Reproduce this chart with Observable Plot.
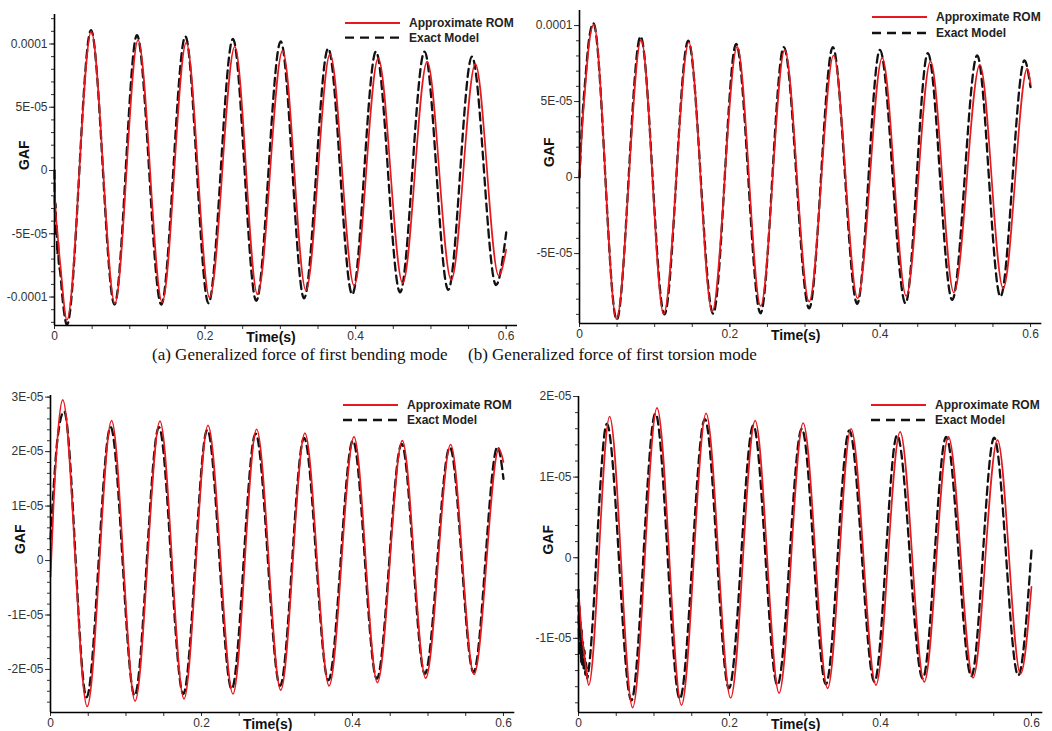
<!DOCTYPE html>
<html><head><meta charset="utf-8">
<script src="https://cdn.jsdelivr.net/npm/d3@7"></script>
<script src="https://cdn.jsdelivr.net/npm/@observablehq/plot@0.6"></script>
<style>
html,body{margin:0;padding:0;background:#fff;overflow:hidden;width:1052px;height:731px;}
#root{position:relative;width:1052px;height:731px;overflow:hidden;}
.panel{position:absolute;}
.panel svg{overflow:visible;}
.legend{position:absolute;}
.caption{position:absolute;font-family:"Liberation Serif","Times New Roman",serif;font-size:17px;line-height:20px;color:#111;white-space:nowrap;}
</style></head><body><div id="root"></div>
<script>
// ---- shared axis data ----
const xTicks = [0, 0.2, 0.4, 0.6];
const xTickLabels = ["0", "0.2", "0.4", "0.6"];
const seriesNames = ["Approximate ROM", "Exact Model"];
const captions = ["(a) Generalized force of first bending mode", "(b) Generalized force of first torsion mode"];

// ---- (a) first bending mode, values in units of 1E-05 ----
const aYTicks = [-10, -5, 0, 5, 10];
const aYLabels = ["-0.0001", "-5E-05", "0", "5E-05", "0.0001"];
const aRomT = [0, 0.001, 0.004, 0.008, 0.0165, 0.0488, 0.0802, 0.111, 0.143, 0.175, 0.206, 0.2395, 0.2696, 0.303, 0.334, 0.366, 0.398, 0.430, 0.4625, 0.495, 0.527, 0.559, 0.590, 0.600];
const aRomV = [0, -2.5, -5.0, -7.6, -11.8, 10.98, -10.5, 10.3, -10.4, 10.1, -10.05, 9.79, -9.79, 9.47, -9.47, 9.2, -9.1, 8.86, -8.9, 8.6, -8.65, 8.4, -8.3, -6.26];
const aExT = [0, 0.0008, 0.0015, 0.0022, 0.003, 0.0038, 0.0046, 0.0056, 0.0075, 0.011, 0.0165, 0.0485, 0.0797, 0.1095, 0.1418, 0.1738, 0.2045, 0.2370, 0.2680, 0.3005, 0.3315, 0.3635, 0.3955, 0.4270, 0.4590, 0.4915, 0.5230, 0.5545, 0.5865, 0.600];
const aExV = [0, -3.5, -2.6, -5.2, -4.3, -6.6, -5.6, -7.2, -8.0, -10.3, -12.2, 11.1, -10.6, 10.7, -10.6, 10.6, -10.5, 10.4, -10.3, 10.2, -10.1, 9.65, -9.8, 9.4, -9.63, 9.4, -9.44, 9.0, -9.05, -4.9];

// ---- (b) first torsion mode ----
const bYTicks = [-5, 0, 5, 10];
const bYLabels = ["-5E-05", "0", "5E-05", "0.0001"];
const bRomT = [0, 0.003, 0.008, 0.0125, 0.019, 0.0492, 0.082, 0.112, 0.1455, 0.1765, 0.2098, 0.241, 0.273, 0.3055, 0.338, 0.370, 0.4027, 0.4346, 0.467, 0.498, 0.5326, 0.5636, 0.5956, 0.600];
const bRomV = [0, 2.8, 6.2, 8.7, 10.07, -9.32, 9.06, -8.97, 8.9, -8.82, 8.62, -8.45, 8.4, -8.16, 8.03, -7.94, 7.88, -7.79, 7.64, -7.57, 7.42, -7.29, 7.16, 6.17];
const bExT = [0, 0.003, 0.008, 0.0125, 0.0185, 0.0495, 0.0812, 0.113, 0.1446, 0.1778, 0.2084, 0.2408, 0.2718, 0.3055, 0.337, 0.3694, 0.3996, 0.4337, 0.4634, 0.4958, 0.529, 0.560, 0.592, 0.600];
const bExV = [0, 3.2, 6.6, 9.0, 10.15, -9.35, 9.28, -9.0, 9.0, -8.95, 8.8, -8.93, 8.58, -8.6, 8.58, -8.3, 8.4, -8.27, 8.18, -8.05, 8.03, -7.83, 7.7, 5.95];

// ---- (c) ----
const cYTicks = [-2, -1, 0, 1, 2, 3];
const cYLabels = ["-2E-05", "-1E-05", "0", "1E-05", "2E-05", "3E-05"];
const cRomT = [0, 0.004, 0.009, 0.0162, 0.0486, 0.0809, 0.112, 0.145, 0.1768, 0.2086, 0.2417, 0.273, 0.305, 0.337, 0.369, 0.402, 0.433, 0.466, 0.497, 0.530, 0.561, 0.594, 0.600];
const cRomV = [-0.3, 1.0, 2.2, 2.95, -2.68, 2.57, -2.58, 2.56, -2.54, 2.48, -2.45, 2.41, -2.38, 2.34, -2.30, 2.27, -2.24, 2.20, -2.16, 2.13, -2.09, 2.05, 1.81];
const cExT = [0, 0.004, 0.009, 0.018, 0.0478, 0.0796, 0.1114, 0.1436, 0.1759, 0.2077, 0.2400, 0.2717, 0.3041, 0.3359, 0.3681, 0.4006, 0.4322, 0.4652, 0.4958, 0.5290, 0.5603, 0.5921, 0.600];
const cExV = [0.4, 1.3, 2.2, 2.74, -2.51, 2.45, -2.48, 2.45, -2.45, 2.40, -2.36, 2.33, -2.30, 2.25, -2.20, 2.20, -2.17, 2.14, -2.08, 2.08, -2.05, 2.09, 1.50];

// ---- (d) ----
const dYTicks = [-1, 0, 1, 2];
const dYLabels = ["-1E-05", "0", "1E-05", "2E-05"];
const dRomT = [0, 0.004, 0.009, 0.0135, 0.0412, 0.0717, 0.104, 0.1364, 0.169, 0.2015, 0.234, 0.2657, 0.2976, 0.330, 0.361, 0.394, 0.426, 0.458, 0.490, 0.5226, 0.555, 0.5855, 0.600];
const dRomV = [-0.4, -0.9, -1.3, -1.58, 1.75, -1.86, 1.86, -1.83, 1.79, -1.74, 1.70, -1.68, 1.67, -1.62, 1.60, -1.58, 1.56, -1.54, 1.50, -1.49, 1.46, -1.44, -0.36];
const dExT = [0, 0.0007, 0.0014, 0.0021, 0.0028, 0.0035, 0.0042, 0.005, 0.006, 0.007, 0.008, 0.009, 0.010, 0.0115, 0.013, 0.0376, 0.0700, 0.1019, 0.1342, 0.1674, 0.1993, 0.2316, 0.2635, 0.2958, 0.3277, 0.3587, 0.3920, 0.4220, 0.4560, 0.4870, 0.5204, 0.5505, 0.5824, 0.600];
const dExV = [-0.4, -1.0, -0.6, -1.2, -0.8, -1.3, -0.9, -1.35, -1.05, -1.4, -1.15, -1.45, -1.3, -1.5, -1.42, 1.66, -1.77, 1.79, -1.75, 1.72, -1.62, 1.64, -1.58, 1.60, -1.57, 1.58, -1.54, 1.52, -1.50, 1.50, -1.47, 1.49, -1.46, 0.09];

const RED = "#e8191e";
const BLACK = "#111";
const FONT = '"Liberation Sans", Arial, sans-serif';

const panels = [
  {left: 0, top: 0, width: 520, height: 350, mL: 54, mR: 3, mT: 14, mB: 25, yDomain: [-12.25, 12.33],
   yTicks: aYTicks, yLabels: aYLabels, yMinor: d3.range(-12, 12.5, 1),
   romT: aRomT, romV: aRomV, exT: aExT, exV: aExV, leg: {x: 345, y: 22.7, gap: 14.6}},
  {left: 520, top: 0, width: 532, height: 350, mL: 59, mR: 10.7, mT: 10, mB: 27, yDomain: [-9.6, 10.99],
   yTicks: bYTicks, yLabels: bYLabels, yMinor: d3.range(-9, 10.5, 1),
   romT: bRomT, romV: bRomV, exT: bExT, exV: bExV, leg: {x: 872, y: 17.3, gap: 16}},
  {left: 0, top: 380, width: 520, height: 360, mL: 50, mR: 5.7, mT: 15, mB: 28, yDomain: [-2.79, 3.03],
   yTicks: cYTicks, yLabels: cYLabels, yMinor: d3.range(-2.6, 3.05, 0.2),
   romT: cRomT, romV: cRomV, exT: cExT, exV: cExV, leg: {x: 343, y: 405, gap: 15}},
  {left: 520, top: 380, width: 532, height: 360, mL: 58, mR: 9.7, mT: 16, mB: 28, yDomain: [-1.92, 2.0],
   yTicks: dYTicks, yLabels: dYLabels, yMinor: d3.range(-1.8, 2.05, 0.2),
   romT: dRomT, romV: dRomV, exT: dExT, exV: dExV, leg: {x: 871, y: 405, gap: 15}}
];

const xMinor = d3.range(0, 0.61, 0.05);
const root = document.getElementById("root");

for (const p of panels) {
  const rom = p.romT.map((t, i) => ({t, v: p.romV[i]}));
  const ex = p.exT.map((t, i) => ({t, v: p.exV[i]}));
  const chart = Plot.plot({
    width: p.width, height: p.height,
    marginLeft: p.mL, marginRight: p.mR, marginTop: p.mT, marginBottom: p.mB,
    x: {domain: [0, 0.615]},
    y: {domain: p.yDomain},
    style: {fontFamily: FONT, fontSize: "12px", color: "#333", background: "transparent", overflow: "visible"},
    marks: [
      Plot.axisY({ticks: p.yMinor, tickSize: 3, tickFormat: () => "", label: null}),
      Plot.axisY({ticks: p.yTicks, tickSize: 5, tickPadding: 2, tickFormat: d => p.yLabels[p.yTicks.indexOf(d)], label: null, fontSize: 12}),
      Plot.axisX({ticks: xMinor, tickSize: 4, tickFormat: () => "", label: null}),
      Plot.axisX({ticks: xTicks, tickSize: 4, tickPadding: 2, tickFormat: d => xTickLabels[xTicks.indexOf(d)], label: null, fontSize: 12}),
      Plot.line(ex, {x: "t", y: "v", curve: "monotone-x", stroke: BLACK, strokeWidth: 2.3, strokeDasharray: "8,5"}),
      Plot.line(rom, {x: "t", y: "v", curve: "monotone-x", stroke: RED, strokeWidth: 1.7}),
      Plot.ruleX([0], {stroke: "#000", strokeWidth: 1.6}),
      Plot.ruleY([p.yDomain[0]], {stroke: "#000", strokeWidth: 1.6}),
      Plot.text(["GAF"], {text: d => d, frameAnchor: "left", dx: -30, rotate: -90, fontWeight: "bold", fontSize: 14, fill: "#111"}),
      Plot.text(["Time(s)"], {text: d => d, frameAnchor: "bottom", dx: -15, dy: 16, fontWeight: "bold", fontSize: 14, fill: "#111"})
    ]
  });
  const holder = document.createElement("div");
  holder.className = "panel";
  holder.style.left = p.left + "px";
  holder.style.top = p.top + "px";
  holder.appendChild(chart);
  root.appendChild(holder);

  // legend
  const ns = "http://www.w3.org/2000/svg";
  const lg = document.createElementNS(ns, "svg");
  lg.setAttribute("width", 180);
  lg.setAttribute("height", 40);
  lg.setAttribute("class", "legend");
  lg.style.position = "absolute";
  lg.style.left = p.leg.x + "px";
  lg.style.top = (p.leg.y - 8) + "px";
  const rows = [
    {stroke: RED, width: 2, dash: null},
    {stroke: BLACK, width: 2.3, dash: "9,6"}
  ];
  rows.forEach((r, i) => {
    const y = 8 + i * p.leg.gap;
    const ln = document.createElementNS(ns, "line");
    ln.setAttribute("x1", 0); ln.setAttribute("x2", 55);
    ln.setAttribute("y1", y); ln.setAttribute("y2", y);
    ln.setAttribute("stroke", r.stroke); ln.setAttribute("stroke-width", r.width);
    if (r.dash) ln.setAttribute("stroke-dasharray", r.dash);
    lg.appendChild(ln);
    const tx = document.createElementNS(ns, "text");
    tx.setAttribute("x", 64); tx.setAttribute("y", y + 4.3);
    tx.setAttribute("font-family", FONT); tx.setAttribute("font-size", 12);
    tx.setAttribute("font-weight", "bold"); tx.setAttribute("fill", "#222");
    tx.textContent = seriesNames[i];
    lg.appendChild(tx);
  });
  root.appendChild(lg);
}

// captions
[{x: 152, y: 345}, {x: 468, y: 345}].forEach((c, i) => {
  const d = document.createElement("div");
  d.className = "caption";
  d.style.left = c.x + "px";
  d.style.top = c.y + "px";
  d.textContent = captions[i];
  root.appendChild(d);
});
</script></body></html>
